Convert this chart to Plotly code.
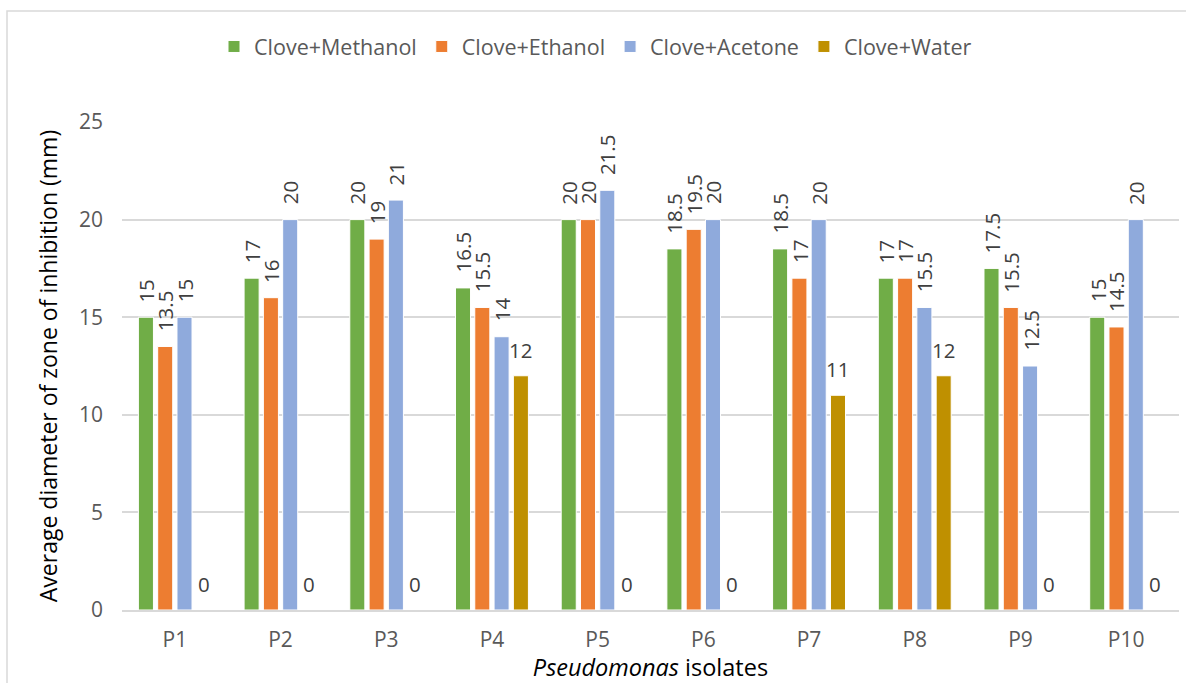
import plotly.graph_objects as go

# Inhibition zone diameters (mm) per Pseudomonas isolate and clove extract solvent
isolates = ["P1", "P2", "P3", "P4", "P5", "P6", "P7", "P8", "P9", "P10"]
methanol = [15, 17, 20, 16.5, 20, 18.5, 18.5, 17, 17.5, 15]
ethanol = [13.5, 16, 19, 15.5, 20, 19.5, 17, 17, 15.5, 14.5]
acetone = [15, 20, 21, 14, 21.5, 20, 20, 15.5, 12.5, 20]
water = [0, 0, 0, 12, 0, 0, 11, 12, 0, 0]

series_names = ["Clove+Methanol", "Clove+Ethanol", "Clove+Acetone", "Clove+Water"]
series_values = [methanol, ethanol, acetone, water]
series_colors = ["#70AD47", "#ED7D31", "#8FAADC", "#BF9000"]

FONT = "Open Sans"
W, H = 1186, 683
ML, MR, MT, MB = 122, 7, 122, 73
PW, PH = W - ML - MR, H - MT - MB

BARGAP = 0.27
GROUPGAP = 0.22
slot = (1 - BARGAP) / len(series_values)

xs = list(range(len(isolates)))

fig = go.Figure()
for name, vals, color in zip(series_names, series_values, series_colors):
    fig.add_trace(go.Bar(
        x=xs, y=vals, name=name,
        marker=dict(color=color, line=dict(color="white", width=1)),
    ))

# value labels: rotated for the solvent extracts, horizontal for water
annotations = []
for k, vals in enumerate(series_values):
    offset = (k - (len(series_values) - 1) / 2) * slot
    rotated = k < 3
    for i, v in enumerate(vals):
        annotations.append(dict(
            x=i + offset, y=v, xref="x", yref="y",
            text=f"{v:g}", showarrow=False,
            textangle=-90 if rotated else 0,
            xanchor="center", yanchor="bottom",
            yshift=13 if rotated else 10,
            font=dict(family=FONT, size=20.5, color="#404040"),
        ))


def px_x(p):
    return (p - ML) / PW


def px_y(p):
    return (H - MB - p) / PH


fig.update_layout(
    width=W, height=H,
    margin=dict(l=ML, r=MR, t=MT, b=MB, autoexpand=False),
    paper_bgcolor="white", plot_bgcolor="white",
    barmode="group", bargap=BARGAP, bargroupgap=GROUPGAP,
    font=dict(family=FONT, color="#595959"),
    legend=dict(
        orientation="h", x=px_x(214), xanchor="left",
        y=px_y(26), yanchor="top",
        font=dict(family=FONT, size=21.5, color="#595959"),
        bgcolor="rgba(0,0,0,0)",
    ),
    annotations=annotations,
    shapes=[dict(
        type="rect", xref="paper", yref="paper",
        x0=px_x(7), x1=px_x(1192), y0=px_y(700), y1=px_y(11),
        line=dict(color="#D9D9D9", width=1.5), fillcolor="rgba(0,0,0,0)",
        layer="below",
    )],
)

fig.update_xaxes(
    range=[-0.5, len(isolates) - 0.5],
    tickmode="array", tickvals=xs, ticktext=isolates,
    showgrid=False, zeroline=False,
    showline=True, linecolor="#D9D9D9", linewidth=1.5,
    ticks="", ticklabelstandoff=10,
    tickfont=dict(family=FONT, size=21, color="#595959"),
    title=dict(text="<i>Pseudomonas</i> isolates", standoff=2,
               font=dict(family=FONT, size=23.5, color="#000000")),
)

fig.update_yaxes(
    range=[0, 25], dtick=5,
    showgrid=True, gridcolor="#D9D9D9", gridwidth=1.5,
    zeroline=False, showline=False,
    ticks="", ticklabelstandoff=18,
    tickfont=dict(family=FONT, size=21, color="#595959"),
    title=dict(text="Average diameter of zone of inhibition (mm)", standoff=14,
               font=dict(family=FONT, size=23, color="#000000")),
)

fig.write_html("out.html")
